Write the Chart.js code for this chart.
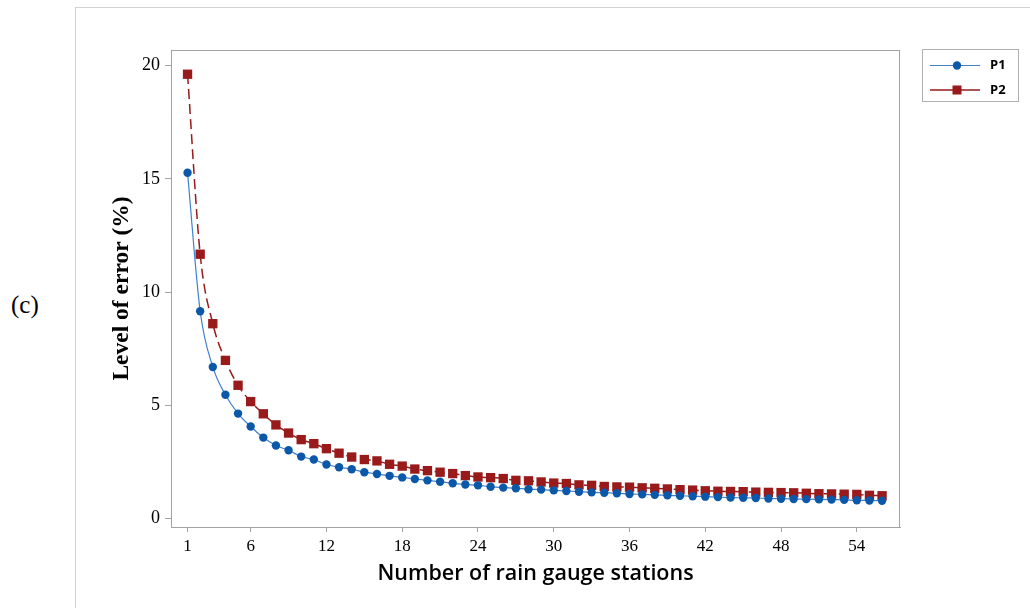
<!DOCTYPE html>
<html>
<head>
<meta charset="utf-8">
<script src="https://cdn.jsdelivr.net/npm/chart.js@4/dist/chart.umd.min.js"></script>
<style>
  html, body { margin: 0; padding: 0; background: #fff; }
  #wrap { position: relative; width: 1030px; height: 608px; overflow: hidden; }
  #frame { position: absolute; left: 75px; top: 7px; width: 1000px; height: 700px;
           border-left: 1px solid #d0d0d0; border-top: 1px solid #d0d0d0; }
  #panel { position: absolute; left: 11px; top: 291px; font: 25px "Liberation Serif", serif; color: #000; }
  canvas { position: absolute; left: 0; top: 0; }
</style>
</head>
<body>
<div id="wrap">
  <div id="frame"></div>
  <div id="panel">(c)</div>
  <canvas id="chart" width="1030" height="608"></canvas>
</div>
<script>
// number of rain gauge stations
const stations = [
  1, 2, 3, 4, 5, 6, 7, 8, 9, 10, 11, 12, 13, 14, 15, 16, 17, 18, 19, 20,
  21, 22, 23, 24, 25, 26, 27, 28, 29, 30, 31, 32, 33, 34, 35, 36, 37, 38, 39, 40,
  41, 42, 43, 44, 45, 46, 47, 48, 49, 50, 51, 52, 53, 54, 55, 56
];

// level of error (%)
const p1 = [
  15.27, 9.15, 6.69, 5.46, 4.63, 4.06, 3.57, 3.22, 3.01, 2.73,
  2.60, 2.38, 2.26, 2.17, 2.04, 1.96, 1.88, 1.81, 1.74, 1.68,
  1.62, 1.55, 1.50, 1.46, 1.40, 1.36, 1.33, 1.29, 1.27, 1.24,
  1.21, 1.18, 1.15, 1.13, 1.11, 1.08, 1.06, 1.04, 1.02, 1.00,
  0.98, 0.96, 0.94, 0.92, 0.91, 0.90, 0.88, 0.87, 0.86, 0.85,
  0.84, 0.83, 0.82, 0.80, 0.79, 0.78
];
const p2 = [
  19.62, 11.67, 8.60, 6.98, 5.88, 5.16, 4.62, 4.13, 3.77, 3.48,
  3.30, 3.08, 2.88, 2.71, 2.60, 2.54, 2.39, 2.31, 2.18, 2.11,
  2.04, 1.98, 1.89, 1.83, 1.80, 1.76, 1.68, 1.66, 1.61, 1.56,
  1.54, 1.48, 1.46, 1.41, 1.39, 1.38, 1.35, 1.33, 1.30, 1.27,
  1.25, 1.22, 1.20, 1.19, 1.18, 1.16, 1.15, 1.14, 1.13, 1.11,
  1.09, 1.08, 1.07, 1.06, 1.02, 1.00
];

const xTicks = [1, 6, 12, 18, 24, 30, 36, 42, 48, 54];
const yTicks = [0, 5, 10, 15, 20];

const blueLine = "#3f7fcc";
const blueDot = "#0b58a8";
const red = "#981a1a";
const axisGrey = "#a3a3a3";

// box round the plot + the legend on the right
const decor = {
  id: "decor",
  beforeDatasetsDraw(chart) {
    const { ctx, chartArea: a } = chart;
    ctx.save();
    ctx.strokeStyle = axisGrey;
    ctx.lineWidth = 1;
    ctx.strokeRect(a.left + 0.5, a.top + 0.5, a.right - a.left - 1, a.bottom - a.top);
    ctx.restore();
  },
  afterDraw(chart) {
    const ctx = chart.ctx;
    ctx.save();
    ctx.strokeStyle = "#b0b0b0";
    ctx.lineWidth = 1;
    ctx.strokeRect(922.5, 49.5, 96, 52);

    ctx.font = "bold 13px 'Open Sans', sans-serif";
    ctx.textBaseline = "middle";

    // P1
    ctx.strokeStyle = blueLine;
    ctx.beginPath(); ctx.moveTo(930, 65.5); ctx.lineTo(980, 65.5); ctx.stroke();
    ctx.fillStyle = blueDot;
    ctx.beginPath(); ctx.arc(957, 65.5, 4.2, 0, Math.PI * 2); ctx.fill();
    ctx.fillStyle = "#000";
    ctx.fillText("P1", 990, 65);

    // P2
    ctx.strokeStyle = red;
    ctx.lineWidth = 1.5;
    ctx.beginPath(); ctx.moveTo(930, 90); ctx.lineTo(980, 90); ctx.stroke();
    ctx.fillStyle = red;
    ctx.fillRect(952.5, 85.5, 9, 9);
    ctx.fillStyle = "#000";
    ctx.fillText("P2", 990, 90);
    ctx.restore();
  }
};

new Chart(document.getElementById("chart"), {
  type: "line",
  data: {
    datasets: [
      {
        label: "P1",
        data: stations.map((s, i) => ({ x: s, y: p1[i] })),
        borderColor: blueLine,
        borderWidth: 1.2,
        backgroundColor: blueDot,
        pointBackgroundColor: blueDot,
        pointBorderColor: blueDot,
        pointStyle: "circle",
        pointRadius: 4.2,
        pointBorderWidth: 0,
        cubicInterpolationMode: "monotone",
      },
      {
        label: "P2",
        data: stations.map((s, i) => ({ x: s, y: p2[i] })),
        borderColor: red,
        borderWidth: 1.5,
        borderDash: [10, 5],
        backgroundColor: red,
        pointBackgroundColor: red,
        pointBorderColor: red,
        pointStyle: "rect",
        pointRadius: 6.6,
        pointBorderWidth: 0,
        cubicInterpolationMode: "monotone",
      },
    ],
  },
  options: {
    responsive: false,
    animation: false,
    devicePixelRatio: 1,
    layout: { padding: { left: 75, top: 50, right: 130, bottom: 0 } },
    plugins: {
      legend: { display: false },
      tooltip: { enabled: false },
    },
    scales: {
      x: {
        type: "linear",
        min: -0.31,
        max: 57.42,
        afterBuildTicks: (s) => { s.ticks = xTicks.map((v) => ({ value: v })); },
        afterFit: (s) => { s.height = 81; },
        ticks: {
          color: "#000",
          font: { family: "'Liberation Serif', serif", size: 17 },
          padding: 4,
          maxRotation: 0,
          autoSkip: false,
        },
        grid: { drawOnChartArea: false, drawTicks: true, tickLength: 5, color: axisGrey },
        border: { display: true, color: axisGrey },
        title: {
          display: true,
          text: "Number of rain gauge stations",
          color: "#000",
          font: { family: "'Open Sans', sans-serif", size: 21.5, weight: "600" },
          padding: { top: 0, bottom: 21 },
        },
      },
      y: {
        type: "linear",
        min: -0.38,
        max: 20.69,
        afterBuildTicks: (s) => { s.ticks = yTicks.map((v) => ({ value: v })); },
        afterFit: (s) => { s.width = 96; },
        ticks: {
          color: "#000",
          font: { family: "'Liberation Serif', serif", size: 18 },
          padding: 5,
        },
        grid: { drawOnChartArea: false, drawTicks: true, tickLength: 6, color: axisGrey },
        border: { display: true, color: axisGrey },
        title: {
          display: true,
          text: "Level of error (%)",
          color: "#000",
          font: { family: "'Liberation Serif', serif", size: 23.5, weight: "bold" },
          padding: { top: 33, bottom: 0 },
        },
      },
    },
  },
  plugins: [decor],
});
</script>
</body>
</html>
